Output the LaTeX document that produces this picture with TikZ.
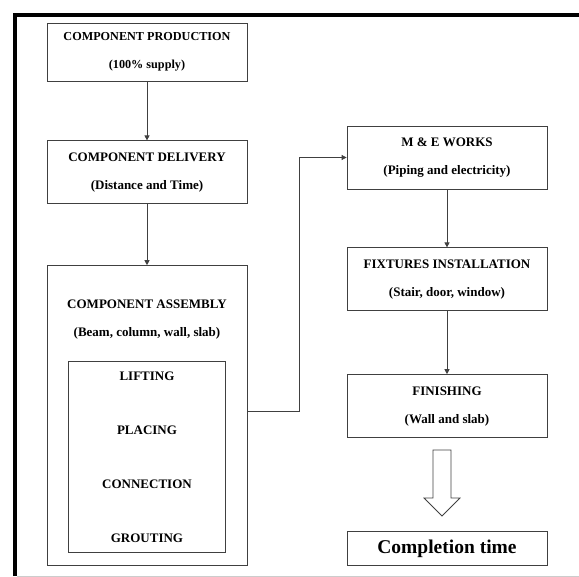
\documentclass[tikz,border=0pt]{standalone}
\usepackage{fontspec}
\setmainfont{Liberation Serif}
\usetikzlibrary{positioning,arrows.meta}

\begin{document}
\begin{tikzpicture}[x=1pt,y=-1pt,
    box/.style={draw=black!75, line width=0.8pt, minimum width=200pt, align=center,
      font=\bfseries\fontsize{13}{28}\selectfont},
    conn/.style={draw=black!75, line width=0.8pt, -{Triangle[length=5pt,width=5pt]}}]
  \useasboundingbox (0,0) rectangle (579,577);
  \draw[line width=3.5pt] (15,576) -- (15,15) -- (579,15);
  \draw[black!20, line width=1pt] (17,576.5) -- (579,576.5);

  % left column
  \node[box, minimum height=58pt, font=\bfseries\fontsize{12.2}{28}\selectfont] (production) at (147,52)
    {COMPONENT PRODUCTION\\(100\% supply)};
  \node[box, minimum height=63pt, below=59pt of production] (delivery)
    {COMPONENT DELIVERY\\(Distance and Time)};
  \node[box, minimum height=300pt, below=61pt of delivery] (assembly) {};
  \node[align=center, font=\bfseries\fontsize{13}{28}\selectfont] (asmtitle) at ([yshift=-54pt]assembly.north)
    {COMPONENT ASSEMBLY\\(Beam, column, wall, slab)};
  \node[box, minimum width=157pt, minimum height=191pt, anchor=south,
    font=\bfseries\fontsize{13}{54}\selectfont] (steps) at ([yshift=13pt]assembly.south)
    {LIFTING\\PLACING\\CONNECTION\\GROUTING};

  % right column
  \node[box, minimum height=63pt] (mework) at (447,157.5)
    {M \& E WORKS\\(Piping and electricity)};
  \node[box, minimum height=63pt, below=58pt of mework] (fixtures)
    {FIXTURES INSTALLATION\\(Stair, door, window)};
  \node[box, minimum height=63pt, below=63pt of fixtures] (finishing)
    {FINISHING\\(Wall and slab)};
  \node[box, minimum height=34pt, below=93pt of finishing,
    font=\bfseries\fontsize{19.5}{24}\selectfont] (completion) {Completion time};

  \draw[conn] (production) -- (delivery);
  \draw[conn] (delivery) -- (assembly);
  \draw[conn] ([yshift=4pt]assembly.east) -- ++(52pt,0) |- (mework.west);
  \draw[conn] (mework) -- (fixtures);
  \draw[conn] (fixtures) -- (finishing);

  \coordinate (arrowtop) at ([xshift=-5pt,yshift=-12pt]finishing.south);
  \draw[black!75, line width=0.8pt] (arrowtop) ++(-9,0) -- ++(18,0) -- ++(0,48) -- ++(9,0)
    -- ++(-18,18) -- ++(-18,-18) -- ++(9,0) -- cycle;
\end{tikzpicture}
\end{document}
